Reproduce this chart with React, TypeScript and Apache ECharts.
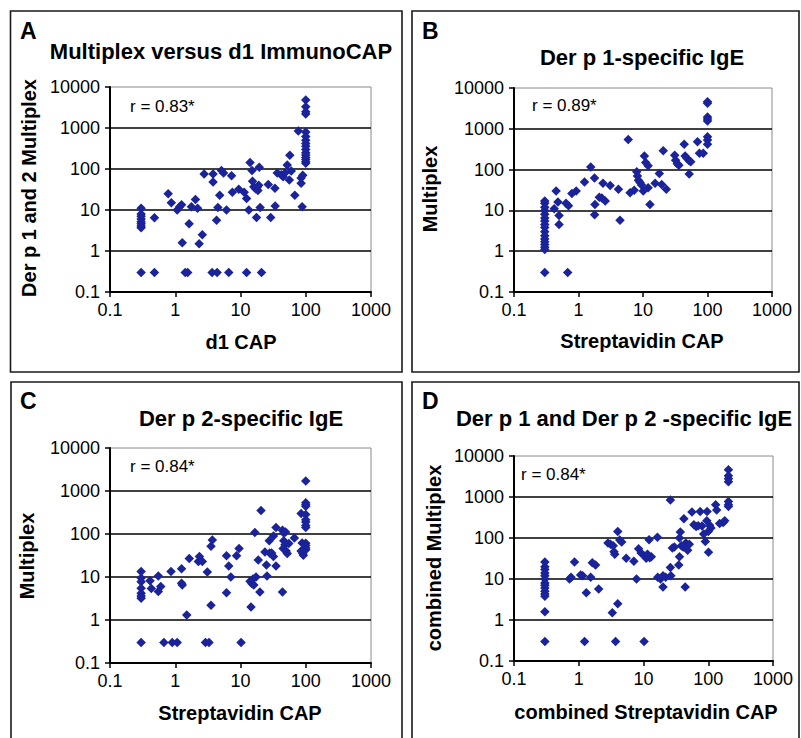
import React, { useEffect, useRef } from "react";
import * as echarts from "echarts";

const FONT = "'Liberation Sans', Arial, sans-serif";
const MARK = "#1a239a";

const X_TICK_LABELS = ["0.1", "1", "10", "100", "1000"];
const Y_TICK_LABELS = ["0.1", "1", "10", "100", "1000", "10000"];

const PANEL_LABELS = ["A", "B", "C", "D"];
const PANEL_TITLES = [
  "Multiplex versus d1 ImmunoCAP",
  "Der p 1-specific IgE",
  "Der p 2-specific IgE",
  "Der p 1 and Der p 2 -specific IgE",
];
const R_LABELS = ["r = 0.83*", "r = 0.89*", "r = 0.84*", "r = 0.84*"];
const X_NAMES = ["d1 CAP", "Streptavidin CAP", "Streptavidin CAP", "combined Streptavidin CAP"];
const Y_NAMES = ["Der p 1 and 2 Multiplex", "Multiplex", "Multiplex", "combined Multiplex"];

const POINTS_A = [
  [0.3, 11], [0.3, 8], [0.3, 7], [0.3, 6], [0.3, 5.2], [0.3, 4.6], [0.3, 4.1], [0.3, 3.7], [0.3, 0.3],
  [0.48, 0.3], [0.48, 6.5],
  [0.78, 25], [0.87, 15], [1.07, 10], [1.17, 12], [1.25, 13.5], [1.28, 1.6], [1.42, 0.3], [1.55, 0.3],
  [1.63, 4.6], [1.77, 12], [2.04, 18], [2.2, 11], [2.32, 1.5], [2.6, 2.5], [2.77, 75],
  [3.67, 0.3], [3.8, 75], [3.8, 48], [4.38, 0.3], [4.3, 5.6], [4.5, 11.5], [4.8, 23], [5.1, 92], [5.5, 80],
  [6.1, 10], [6.6, 0.3], [7.3, 68], [7.5, 27],
  [9.4, 32], [11.4, 27], [12.4, 0.3], [12.4, 19], [13.4, 10], [14, 145], [15, 92], [15.3, 50], [16, 37],
  [17, 33], [18, 36], [18.5, 30], [19, 40], [17.6, 6.6], [19.4, 110], [21, 0.3], [20, 11.5],
  [26.6, 42], [29, 6.6], [33.7, 34], [34, 12.5], [36.6, 80], [42, 72], [45, 65], [48, 80], [52, 125],
  [57, 215], [56, 54], [60, 90], [68, 23], [77, 850], [85, 60], [85, 45], [90, 70], [88, 12],
  [100, 4800], [100, 3300], [100, 2500], [100, 2200], [100, 800], [100, 620], [100, 500], [100, 420],
  [100, 360], [100, 300], [100, 250], [100, 220], [100, 190], [100, 170], [100, 150], [100, 138],
];

const POINTS_B = [
  [0.3, 17], [0.3, 15], [0.3, 12], [0.3, 10], [0.3, 8], [0.3, 6.5], [0.3, 5.5], [0.3, 4.5], [0.3, 3.8],
  [0.3, 3], [0.3, 2.4], [0.3, 2], [0.3, 1.7], [0.3, 1.45], [0.3, 1.25], [0.3, 1.1], [0.3, 0.3],
  [0.68, 0.3], [0.42, 11], [0.45, 30], [0.48, 16], [0.5, 7.5], [0.5, 4.5], [0.64, 15], [0.7, 13],
  [0.79, 26], [0.92, 30], [1.24, 50], [1.55, 115], [1.77, 62], [1.8, 14], [1.78, 7.8], [2.1, 21],
  [2.3, 20], [2.4, 46], [2.6, 17], [3.1, 41], [4.16, 33], [4.4, 5.7], [5.9, 550], [6.3, 27], [7.3, 31],
  [8, 88], [8.2, 70], [8.5, 55], [9, 48], [9.5, 42], [10.1, 30], [10.5, 215], [11, 150], [12, 125],
  [12, 36], [12.8, 14], [15.4, 46], [17.9, 80], [19.5, 43], [20.6, 290], [23, 33], [31, 225], [32, 170],
  [34, 140], [36, 128], [43.5, 420], [45, 215], [48, 190], [52, 165], [55, 155], [52, 78], [70, 480],
  [75, 250], [86, 250],
  [100, 4600], [100, 4200], [100, 1950], [100, 1750], [100, 1550], [100, 640], [100, 530], [100, 420],
];

const POINTS_C = [
  [0.3, 13.5], [0.3, 9.5], [0.3, 7.8], [0.3, 5.5], [0.3, 4.2], [0.3, 3.6], [0.3, 3.2], [0.3, 0.3],
  [0.41, 8.2], [0.43, 5.4], [0.55, 10.5], [0.55, 4.6], [0.6, 6], [0.67, 0.3], [0.86, 13.5], [0.9, 0.3],
  [1.07, 0.3], [1.25, 15.5], [1.25, 7.2], [1.28, 6.5], [1.5, 1.3], [1.64, 27], [2.26, 23], [2.35, 30],
  [2.6, 23], [2.9, 0.3], [3.29, 0.3], [3.1, 13], [3.53, 2.2], [3.53, 52], [3.7, 73], [6.1, 31], [6.1, 4.3],
  [6.6, 18], [7.1, 10], [8.7, 31], [9.5, 46], [10.2, 0.3], [14.5, 2], [14, 8], [15, 7], [16, 6.5],
  [15.5, 9], [17.3, 10], [16.6, 108], [18.7, 25], [19.8, 4.5], [20.6, 350], [23.7, 38], [25, 19],
  [25.5, 10.5], [27.6, 70], [28, 36], [30, 36], [32, 30], [32, 90], [35, 142], [35, 18], [44, 4.5],
  [44, 123], [46, 105], [49, 112], [46, 70], [48, 56], [45, 46], [50, 40], [52, 35], [55, 60], [67, 81],
  [85, 300], [88, 62], [85, 40], [90, 35], [95, 46], [92, 32],
  [100, 1700], [100, 530], [100, 480], [100, 440], [100, 283], [100, 215], [100, 190], [100, 157],
  [100, 142], [100, 61], [100, 54], [100, 47], [100, 43],
];

const POINTS_D = [
  [0.3, 26], [0.3, 20], [0.3, 17], [0.3, 14], [0.3, 12], [0.3, 10], [0.3, 8], [0.3, 7], [0.3, 6],
  [0.3, 5], [0.3, 4.3], [0.3, 3.8], [0.3, 1.6], [0.3, 0.3],
  [0.72, 10], [0.76, 11], [0.86, 26], [1.07, 12.5], [1.15, 12], [1.23, 0.3], [1.31, 4.6], [1.53, 11],
  [1.62, 25], [1.82, 22], [2.03, 5.7], [2.83, 75], [3.1, 70], [3.4, 65], [3.5, 46], [3.6, 40], [3.3, 1.5],
  [3.7, 0.3], [4.0, 2.5], [4.0, 145], [4.3, 90], [4.6, 80], [5.4, 32], [7.1, 27], [7.8, 10], [8.4, 55],
  [9.2, 43], [10.2, 0.3], [10.5, 36], [11, 32], [11.8, 38], [12.5, 33], [13.2, 35], [11.5, 40], [12.2, 91],
  [16.4, 105], [16.6, 11], [18.3, 10], [20, 12], [20, 6.4], [22, 11], [26, 850], [26, 19], [26.5, 12],
  [27.9, 57], [30, 60], [35, 22], [36, 35], [37, 140], [36, 100], [38.5, 65], [41, 60], [42, 296],
  [44, 6.4], [45, 75], [48, 50], [51, 70], [56, 428], [60, 210], [65, 190], [70, 200], [75, 440],
  [80, 195], [85, 125], [90, 82], [96, 440], [95, 265], [100, 145], [105, 205], [110, 175], [101, 45],
  [130, 650], [135, 480], [150, 225], [170, 240], [180, 265],
  [205, 4600], [205, 3300], [205, 2800], [205, 2350], [205, 780], [205, 650], [205, 590],
];

const ALL_POINTS = [POINTS_A, POINTS_B, POINTS_C, POINTS_D];

// layout (pixels)
const GRIDS = [
  { left: 110, top: 87, width: 261, height: 205 },
  { left: 514, top: 88, width: 258, height: 204 },
  { left: 110, top: 448, width: 261, height: 215 },
  { left: 514, top: 456, width: 259, height: 205 },
];
const PANEL_BOXES = [
  { x: 10.5, y: 11, width: 391.5, height: 361 },
  { x: 412, y: 11, width: 387, height: 361 },
  { x: 11, y: 382, width: 391, height: 370 },
  { x: 412, y: 382, width: 387, height: 370 },
];
const LABEL_POS = [[20, 31], [422, 31], [20, 401], [422, 401]];
const TITLE_POS = [[221, 51], [642, 57], [241, 418], [624, 418]];
const R_POS = [[130, 106], [532, 105], [130, 466], [521, 474]];
const XNAME_POS = [[241, 342], [642, 341], [240, 713], [646, 712]];
const YNAME_POS = [[29, 188], [430, 189], [27, 556], [434, 558]];

function tickFormatter(labels: string[]) {
  return (v: number) => {
    const i = Math.round(Math.log10(v)) + 1;
    return labels[i] ?? "";
  };
}

export default function App() {
  const ref = useRef<HTMLDivElement>(null);

  useEffect(() => {
    if (!ref.current) return;
    const chart = echarts.init(ref.current, null, { renderer: "svg" });

    const axisCommon = {
      type: "log" as const,
      logBase: 10,
      axisLine: { show: true, onZero: false, lineStyle: { color: "#000", width: 2 } },
      axisTick: { show: true, length: 5, lineStyle: { color: "#000", width: 1.5 } },
    };

    const graphic: any[] = [];
    PANEL_BOXES.forEach((b) => {
      graphic.push({
        type: "rect",
        shape: b,
        style: { fill: "none", stroke: "#1a1a1a", lineWidth: 1.6 },
        silent: true,
      });
    });
    for (let i = 0; i < 4; i++) {
      graphic.push({
        type: "text",
        x: LABEL_POS[i][0],
        y: LABEL_POS[i][1],
        style: {
          text: PANEL_LABELS[i], font: `bold 23px ${FONT}`, fill: "#000",
          align: "left", verticalAlign: "middle",
        },
      });
      graphic.push({
        type: "text",
        x: TITLE_POS[i][0],
        y: TITLE_POS[i][1],
        style: {
          text: PANEL_TITLES[i], font: `bold 22px ${FONT}`, fill: "#000",
          align: "center", verticalAlign: "middle",
        },
      });
      graphic.push({
        type: "text",
        x: R_POS[i][0],
        y: R_POS[i][1],
        style: {
          text: R_LABELS[i], font: `17px ${FONT}`, fill: "#000",
          align: "left", verticalAlign: "middle",
        },
      });
      graphic.push({
        type: "text",
        x: XNAME_POS[i][0],
        y: XNAME_POS[i][1],
        style: {
          text: X_NAMES[i], font: `bold 20px ${FONT}`, fill: "#000",
          align: "center", verticalAlign: "middle",
        },
      });
      graphic.push({
        type: "text",
        x: YNAME_POS[i][0],
        y: YNAME_POS[i][1],
        rotation: Math.PI / 2,
        style: {
          text: Y_NAMES[i], font: `bold 20px ${FONT}`, fill: "#000",
          align: "center", verticalAlign: "middle",
        },
      });
    }

    chart.setOption({
      animation: false,
      backgroundColor: "#fff",
      grid: GRIDS.map((g) => ({
        ...g,
        show: true,
        borderColor: "#8a8a8a",
        borderWidth: 1,
        backgroundColor: "#fff",
        containLabel: false,
        outerBoundsMode: "none",
      })),
      xAxis: GRIDS.map((_, i) => ({
        ...axisCommon,
        gridIndex: i,
        min: 0.1,
        max: 1000,
        splitNumber: 4,
        axisLabel: {
          fontSize: 18, fontFamily: FONT, color: "#000", margin: 9,
          formatter: tickFormatter(X_TICK_LABELS),
        },
        splitLine: { show: false },
      })),
      yAxis: GRIDS.map((_, i) => ({
        ...axisCommon,
        gridIndex: i,
        min: 0.1,
        max: 10000,
        splitNumber: 5,
        axisLabel: {
          fontSize: 18, fontFamily: FONT, color: "#000", margin: 10,
          formatter: tickFormatter(Y_TICK_LABELS),
        },
        splitLine: {
          show: true, showMinLine: false, showMaxLine: false,
          lineStyle: { color: "#000", width: 1.6 },
        },
      })),
      series: ALL_POINTS.map((pts, i) => ({
        type: "scatter",
        xAxisIndex: i,
        yAxisIndex: i,
        data: pts,
        symbol: "diamond",
        symbolSize: 9.5,
        itemStyle: { color: MARK, opacity: 1 },
        silent: true,
        clip: false,
      })),
      graphic,
    });

    return () => chart.dispose();
  }, []);

  return (
    <div
      ref={ref}
      style={{ position: "absolute", left: 0, top: 0, width: 801, height: 738, background: "#fff" }}
    />
  );
}
